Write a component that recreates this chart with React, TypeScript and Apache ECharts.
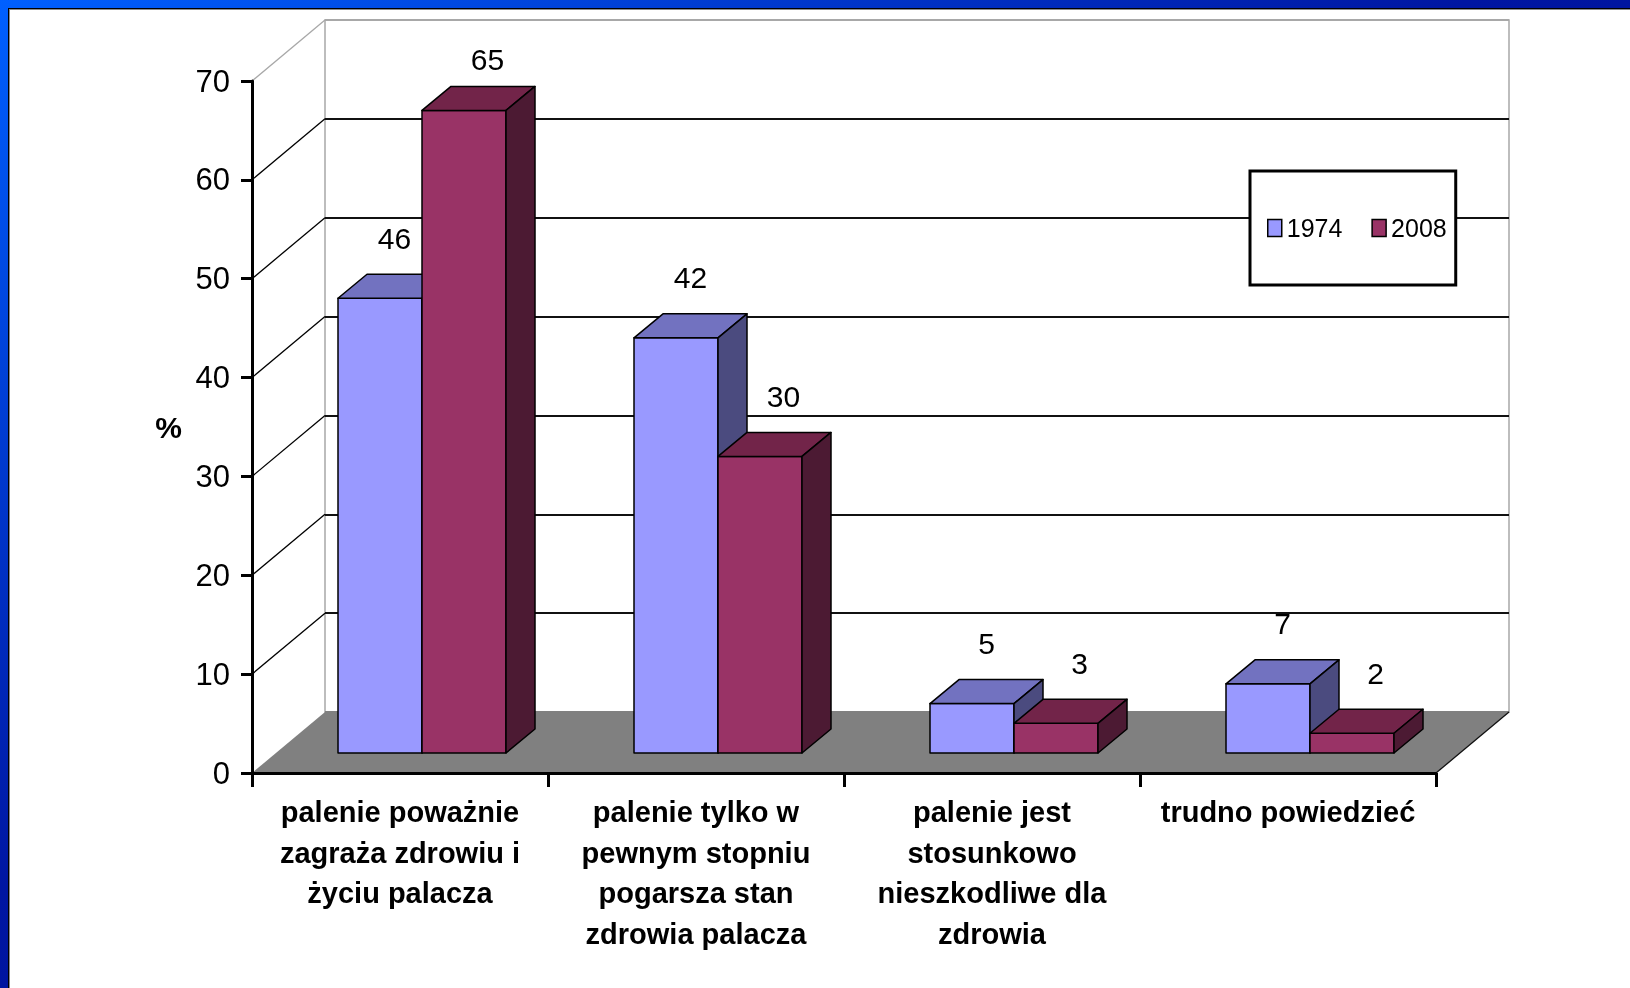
import React, { useEffect, useRef } from "react";
import * as echarts from "echarts";

// ---------- data ----------
const categories = [
  "palenie poważnie\nzagraża zdrowiu i\nżyciu palacza",
  "palenie tylko w\npewnym stopniu\npogarsza stan\nzdrowia palacza",
  "palenie jest\nstosunkowo\nnieszkodliwe dla\nzdrowia",
  "trudno powiedzieć",
];
const seriesNames = ["1974", "2008"];
const values1974 = [46, 42, 5, 7];
const values2008 = [65, 30, 3, 2];
const yTicks = [0, 10, 20, 30, 40, 50, 60, 70];
const yAxisName = "%";

// ---------- layout / style ----------
const FONT = '"Liberation Sans", Arial, sans-serif';
const FRONT = { left: 252, top: 81, width: 1184, height: 692 };
const DEPTH = { dx: 73, dy: -61 };
const BAR_SHIFT = { dx: 24, dy: -20 };
const BAR_DEPTH = { dx: 29, dy: -24 };
const BAR_W = 84 / 296;
const BAR_OFF = [-86 / 296, -2 / 296];
const LABEL_DX = [0, 9];
const LABEL_MIN_Y = 59;
const COLORS = [
  { front: "#9999FF", top: "#7272C0", side: "#4B4B7F" },
  { front: "#993366", top: "#722449", side: "#4C1A33" },
];

function barRender(sIdx: number) {
  return (params: any, api: any) => {
    const cat = api.value(0);
    const val = api.value(1);
    const base = api.coord([cat, 0]);
    const topP = api.coord([cat, val]);
    const band = api.size([1, 0])[0];
    const w = band * BAR_W;
    const x0 = base[0] + band * BAR_OFF[sIdx] + BAR_SHIFT.dx;
    const yb = base[1] + BAR_SHIFT.dy;
    const yt = topP[1] + BAR_SHIFT.dy;
    const dx = BAR_DEPTH.dx;
    const dy = BAR_DEPTH.dy;
    const c = COLORS[sIdx];
    const st = { stroke: "#000", lineWidth: 1.5, lineJoin: "round" };
    return {
      type: "group",
      children: [
        {
          type: "polygon",
          shape: { points: [[x0, yb], [x0 + w, yb], [x0 + w, yt], [x0, yt]] },
          style: { fill: c.front, ...st },
        },
        {
          type: "polygon",
          shape: { points: [[x0, yt], [x0 + w, yt], [x0 + w + dx, yt + dy], [x0 + dx, yt + dy]] },
          style: { fill: c.top, ...st },
        },
        {
          type: "polygon",
          shape: { points: [[x0 + w, yb], [x0 + w + dx, yb + dy], [x0 + w + dx, yt + dy], [x0 + w, yt]] },
          style: { fill: c.side, ...st },
        },
        {
          type: "text",
          x: x0 + (w + dx) / 2 + LABEL_DX[sIdx],
          y: Math.max(yt + dy - 36, LABEL_MIN_Y),
          style: {
            text: String(val),
            fontSize: 30,
            fontFamily: FONT,
            fill: "#000",
            align: "center",
            verticalAlign: "middle",
          },
        },
      ],
    };
  };
}

function wallRender(params: any, api: any) {
  const v = api.value(1);
  const p = api.coord([0, v]);
  const cs = params.coordSys;
  const x = cs.x;
  if (v === 0) {
    const y0 = p[1];
    return {
      type: "group",
      children: [
        {
          type: "polygon",
          shape: {
            points: [
              [x, y0],
              [x + cs.width, y0],
              [x + cs.width + DEPTH.dx, y0 + DEPTH.dy],
              [x + DEPTH.dx, y0 + DEPTH.dy],
            ],
          },
          style: { fill: "#808080" },
        },
        {
          type: "line",
          shape: { x1: x + cs.width, y1: y0, x2: x + cs.width + DEPTH.dx, y2: y0 + DEPTH.dy },
          style: { stroke: "#111", lineWidth: 1.3 },
        },
      ],
    };
  }
  const isTop = v === yTicks[yTicks.length - 1];
  return {
    type: "line",
    shape: { x1: x, y1: p[1], x2: x + DEPTH.dx, y2: p[1] + DEPTH.dy },
    style: { stroke: isTop ? "#a8a8a8" : "#000", lineWidth: 1.3 },
  };
}

export default function App() {
  const ref = useRef<HTMLDivElement>(null);
  useEffect(() => {
    if (!ref.current) return;
    const chart = echarts.init(ref.current, undefined, { renderer: "svg" });
    const yMax = yTicks[yTicks.length - 1];
    const splitColors = yTicks.map((v, i) =>
      i === yTicks.length - 1 ? "#a8a8a8" : i === 0 ? "#808080" : "#111"
    );
    chart.setOption({
      animation: false,
      backgroundColor: "transparent",
      graphic: [
        {
          type: "rect",
          z: -10,
          shape: { x: 0, y: 0, width: 1630, height: 988 },
          style: {
            fill: new echarts.graphic.LinearGradient(0, 0, 1, 1, [
              { offset: 0, color: "#0060FF" },
              { offset: 0.45, color: "#0016A2" },
              { offset: 1, color: "#000C8C" },
            ]),
          },
        },
        { type: "rect", z: -9, shape: { x: 8, y: 8, width: 1630, height: 988 }, style: { fill: "#000" } },
        { type: "rect", z: -8, shape: { x: 9, y: 9, width: 1630, height: 988 }, style: { fill: "#8a8a8a" } },
        { type: "rect", z: -7, shape: { x: 10, y: 10, width: 1630, height: 988 }, style: { fill: "#fff" } },
      ],
      legend: {
        data: seriesNames,
        left: 1250,
        top: 171,
        orient: "horizontal",
        icon: "rect",
        itemWidth: 14,
        itemHeight: 17,
        itemGap: 29,
        padding: [44, 9, 44, 17],
        backgroundColor: "#fff",
        borderColor: "#000",
        borderWidth: 3,
        selectedMode: false,
        z: 20,
        itemStyle: { borderColor: "#000", borderWidth: 1.5 },
        textStyle: { fontFamily: FONT, fontSize: 25, color: "#000", lineHeight: 26 },
      },
      grid: [
        { ...FRONT, show: false },
        {
          left: FRONT.left + DEPTH.dx,
          top: FRONT.top + DEPTH.dy,
          width: FRONT.width,
          height: FRONT.height,
          show: true,
          backgroundColor: "#fff",
          borderColor: "#a8a8a8",
          borderWidth: 1.5,
        },
      ],
      xAxis: [
        {
          type: "category",
          gridIndex: 0,
          data: categories,
          boundaryGap: true,
          z: 10,
          axisLine: { show: true, lineStyle: { color: "#000", width: 3 } },
          axisTick: { show: true, length: 14, lineStyle: { color: "#000", width: 3 } },
          axisLabel: {
            interval: 0,
            margin: 19,
            fontFamily: FONT,
            fontSize: 29,
            fontWeight: "bold",
            lineHeight: 40.5,
            color: "#000",
          },
          splitLine: { show: false },
        },
        {
          type: "category",
          gridIndex: 1,
          data: categories,
          show: false,
        },
      ],
      yAxis: [
        {
          type: "value",
          gridIndex: 0,
          min: 0,
          max: yMax,
          interval: 10,
          z: 10,
          name: yAxisName,
          nameLocation: "middle",
          nameRotate: 0,
          nameGap: 70,
          nameTextStyle: { fontFamily: FONT, fontSize: 30, fontWeight: "bold", color: "#000" },
          axisLine: { show: true, lineStyle: { color: "#000", width: 3 } },
          axisTick: { show: true, length: 11, lineStyle: { color: "#000", width: 3 } },
          axisLabel: { margin: 22, fontFamily: FONT, fontSize: 31, color: "#000" },
          splitLine: { show: false },
        },
        {
          type: "value",
          gridIndex: 1,
          min: 0,
          max: yMax,
          interval: 10,
          axisLine: { show: false },
          axisTick: { show: false },
          axisLabel: { show: false },
          splitLine: { show: true, lineStyle: { color: splitColors, width: 2 } },
        },
      ],
      series: [
        {
          type: "custom",
          name: "walls",
          xAxisIndex: 0,
          yAxisIndex: 0,
          z: 1,
          clip: false,
          silent: true,
          data: yTicks.map((v) => [0, v]),
          renderItem: wallRender,
        },
        {
          type: "custom",
          name: seriesNames[0],
          xAxisIndex: 0,
          yAxisIndex: 0,
          z: 3,
          clip: false,
          itemStyle: { color: COLORS[0].front },
          data: values1974.map((v, i) => [i, v]),
          renderItem: barRender(0),
        },
        {
          type: "custom",
          name: seriesNames[1],
          xAxisIndex: 0,
          yAxisIndex: 0,
          z: 4,
          clip: false,
          itemStyle: { color: COLORS[1].front },
          data: values2008.map((v, i) => [i, v]),
          renderItem: barRender(1),
        },
      ],
    });
    return () => chart.dispose();
  }, []);
  return (
    <div
      ref={ref}
      style={{ position: "fixed", left: 0, top: 0, width: 1630, height: 988 }}
    />
  );
}
